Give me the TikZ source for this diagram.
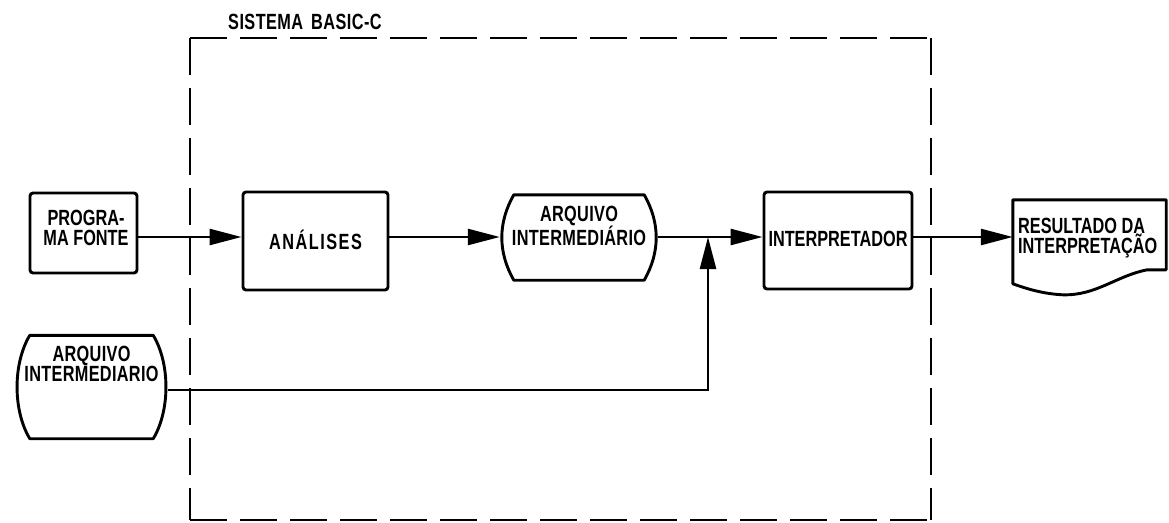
\documentclass[tikz,border=0pt]{standalone}
\usepackage{fontspec}
\setmainfont{Liberation Sans}
\newfontfamily\diagfont[FakeStretch=0.74]{Liberation Sans}
\newfontfamily\storefont[FakeStretch=0.74,LetterSpace=1.5]{Liberation Sans}
\newfontfamily\titlefont[FakeStretch=0.74,LetterSpace=2]{Liberation Sans}
\usetikzlibrary{arrows.meta,calc}
\tikzset{
  txt/.style={font=\diagfont\bfseries\fontsize{22}{20}\selectfont, align=center, inner sep=0pt},
  storetxt/.style={txt, font=\storefont\bfseries\fontsize{22}{20}\selectfont},
  shell/.style={draw=none, inner sep=0pt, minimum width=#1},
  outline/.style={line width=2.9pt, line join=round},
  procbox/.style={draw, line width=2.9pt, rounded corners=3pt, inner sep=0pt},
  flow/.style={line width=2.5pt, -{Triangle[length=32pt,width=16pt]}},
  sysframe/.style={line width=2.9pt, dash pattern=on 37pt off 13pt},
}
% barrel-shaped store symbol drawn around a named node
\newcommand\storeoutline[2]{%
  \draw[outline]
    ($(#1.north west)+(#2,0)$) -- ($(#1.north east)+(-#2,0)$)
    .. controls ($(#1.north east)+(2,28)$) and ($(#1.south east)+(2,-28)$) ..
    ($(#1.south east)+(-#2,0)$) -- ($(#1.south west)+(#2,0)$)
    .. controls ($(#1.south west)+(-2,-28)$) and ($(#1.north west)+(-2,28)$) ..
    cycle;}
\begin{document}
\begin{tikzpicture}[x=1pt,y=-1pt]
\useasboundingbox (0,0) rectangle (1169,522);

% system boundary
\draw[sysframe] (190,38) -- (931,38);
\draw[sysframe] (190,38) -- (190,520);
\draw[sysframe] (190,520) -- (931,520);
\draw[sysframe] (931,38) -- (931,520);
\node[txt, font=\titlefont\bfseries\fontsize{22}{20}\selectfont, anchor=base west] (sys) at (228,29) {SISTEMA\hspace{8pt}BASIC-C};

% junction of the two inputs to the interpreter
\coordinate (j) at (708,237);
\coordinate (k) at (708,390);

% processing boxes
\node[procbox, minimum width=107pt, minimum height=80pt] (prog) at (83.5,233) {};
\node[txt] (progtxt) at (86,228) {PROGRA-\\MA FONTE};
\node[procbox, minimum width=145pt, minimum height=98pt] (anal) at (315.5,241) {};
\node[txt] (analtxt) at (315.5,240) {A\kern1.5pt N\kern1.5pt Á\kern1.5pt L\kern1.5pt I\kern1.5pt S\kern1.5pt E\kern1.5pt S};
\node[procbox, minimum width=148pt, minimum height=97pt] (interp) at (838,240.5) {};
\node[txt] (interptxt) at (838,239) {INTERPRETADOR};

% intermediate file (store symbol)
\node[shell=158pt, minimum height=85pt] (arq) at (579,237.5) {};
\storeoutline{arq}{14}
\node[storetxt] (arqtxt) at (579,226) {ARQUIVO\\INTERMEDIÁRIO};

% previously stored intermediate file
\node[shell=153pt, minimum height=103pt] (arqb) at (91.5,387) {};
\storeoutline{arqb}{15}
\node[storetxt] (arqbtxt) at (91.5,364) {ARQUIVO\\INTERMEDIARIO};

% output document
\node[shell=153pt, minimum height=84pt] (res) at (1089.5,242) {};
\draw[outline]
  (res.north west) -- (res.north east) -- ($(res.north east)+(0,70)$)
  -- ($(res.north east)+(-19,70)$)
  .. controls ($(res.north east)+(-50,76)$) and ($(res.north east)+(-70,96)$) ..
  ($(res.north west)+(50,95)$)
  .. controls ($(res.north west)+(30,94)$) and ($(res.north west)+(14,89)$) ..
  ($(res.north west)+(0,84)$) -- cycle;
\node[txt, align=left, anchor=west, font=\diagfont\bfseries\fontsize{22}{17}\selectfont] (restxt) at (1018,238) {RESULTADO DA\\INTERPRETAÇÃO};

% data flow
\draw[flow] (prog.east |- j) -- (anal.west |- j);
\draw[flow] (anal.east |- j) -- (arq.west |- j);
\draw[flow] (arq.east |- j) -- (interp.west |- j);
\draw[flow] (interp.east |- j) -- (res.west |- j);
\draw[flow] (arqb.east |- k) -- (k) -- (j);
\end{tikzpicture}
\end{document}
